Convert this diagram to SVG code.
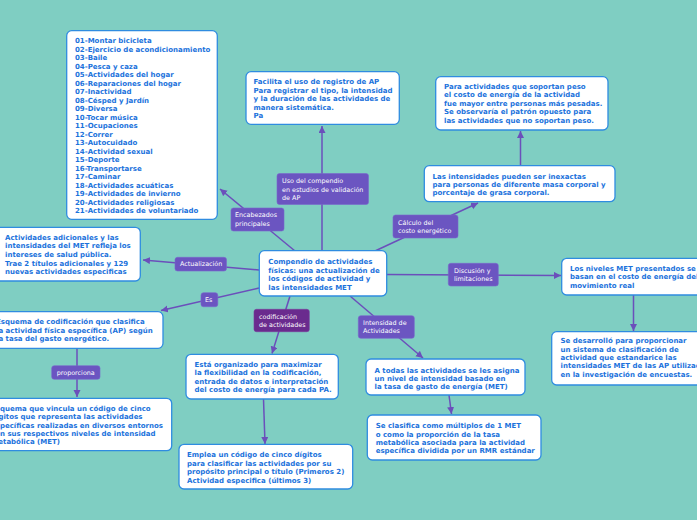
<svg xmlns="http://www.w3.org/2000/svg" width="697" height="520" viewBox="0 0 697 520">
<style>
.bg{fill:#7fcec2}
.box{fill:#ffffff;stroke:#2f8ce0;stroke-width:1.3}
.t{font-family:"DejaVu Sans",Verdana,sans-serif;font-weight:bold;font-size:7px;fill:#1b72dc}
.lab{fill:#6b55c1;stroke:#7a66cc;stroke-width:0.6}
.labd{fill:#6a2b8e;stroke:#7a3a9c;stroke-width:0.6}
.lt{font-family:"DejaVu Sans",Verdana,sans-serif;font-size:6.4px;fill:#ffffff}
.c{stroke:#6b4fbb;stroke-width:1.5;fill:none}
</style>
<defs>
<marker id="ah" markerUnits="userSpaceOnUse" markerWidth="10" markerHeight="10" refX="7" refY="3.5" orient="auto">
<path d="M0,0 L7,3.5 L0,7 Z" fill="#6b4fbb"/>
</marker>
</defs>
<rect class="bg" x="0" y="0" width="697" height="520"/>

<g id="connectors">
<line class="c" x1="322" y1="251" x2="322" y2="126" marker-end="url(#ah)"/>
<line class="c" x1="295" y1="251" x2="220" y2="189" marker-end="url(#ah)"/>
<line class="c" x1="375" y1="251" x2="478" y2="203" marker-end="url(#ah)"/>
<line class="c" x1="520.5" y1="165" x2="520.5" y2="131" marker-end="url(#ah)"/>
<line class="c" x1="259" y1="270" x2="143" y2="260" marker-end="url(#ah)"/>
<line class="c" x1="259" y1="288" x2="161" y2="310.5" marker-end="url(#ah)"/>
<line class="c" x1="77" y1="348" x2="77" y2="397" marker-end="url(#ah)"/>
<line class="c" x1="290" y1="296" x2="272" y2="353.5" marker-end="url(#ah)"/>
<line class="c" x1="263.5" y1="399" x2="265" y2="444" marker-end="url(#ah)"/>
<line class="c" x1="350" y1="296" x2="423" y2="358" marker-end="url(#ah)"/>
<line class="c" x1="449" y1="395" x2="451.5" y2="414" marker-end="url(#ah)"/>
<line class="c" x1="386" y1="274.5" x2="561" y2="275.5" marker-end="url(#ah)"/>
<line class="c" x1="633.5" y1="295" x2="633.5" y2="331" marker-end="url(#ah)"/>
</g>

<g id="labels">
<g id="lab-uso"><rect class="lab" x="277" y="173.5" width="91.5" height="31" rx="2.5"/>
<text class="lt"><tspan x="282" y="183.2">Uso del compendio</tspan><tspan x="282" y="191.5">en estudios de validación</tspan><tspan x="282" y="199.9">de AP</tspan></text></g>
<g id="lab-encab"><rect class="lab" x="231" y="208" width="53" height="23" rx="2.5"/>
<text class="lt"><tspan x="235" y="217.2">Encabezados</tspan><tspan x="235" y="225.5">principales</tspan></text></g>
<g id="lab-calc"><rect class="lab" x="393" y="215" width="65" height="23" rx="2.5"/>
<text class="lt"><tspan x="398" y="224.5">Cálculo del</tspan><tspan x="398" y="232.9">costo energético</tspan></text></g>
<g id="lab-act"><rect class="lab" x="175" y="257.3" width="51.5" height="13.7" rx="2.5"/>
<text class="lt"><tspan x="180" y="266.3">Actualización</tspan></text></g>
<g id="lab-es"><rect class="lab" x="201" y="292.7" width="16.8" height="14" rx="2.5"/>
<text class="lt"><tspan x="205" y="302.2">Es</tspan></text></g>
<g id="lab-prop"><rect class="lab" x="51.7" y="365.7" width="48.3" height="13.6" rx="2.5"/>
<text class="lt"><tspan x="56.7" y="375.3">proporciona</tspan></text></g>
<g id="lab-codif"><rect class="labd" x="254" y="309.3" width="55.3" height="22.4" rx="2.5"/>
<text class="lt"><tspan x="259" y="318.9">codificación</tspan><tspan x="259" y="327.2">de actividades</tspan></text></g>
<g id="lab-int"><rect class="lab" x="358.3" y="315.7" width="56" height="22.6" rx="2.5"/>
<text class="lt"><tspan x="363" y="324.9">Intensidad de</tspan><tspan x="363" y="332.9">Actividades</tspan></text></g>
<g id="lab-disc"><rect class="lab" x="448.3" y="263.3" width="50" height="22.7" rx="2.5"/>
<text class="lt"><tspan x="454" y="272.9">Discusión y</tspan><tspan x="454" y="281.2">limitaciones</tspan></text></g>
</g>

<g id="node-central"><rect class="box" x="259.3" y="250.7" width="127.4" height="45.3" rx="5"/>
<text class="t"><tspan x="268.3" y="264.2">Compendio de actividades</tspan><tspan x="268.3" y="272.8">físicas: una actualización de</tspan><tspan x="268.3" y="281.3">los códigos de actividad y</tspan><tspan x="268.3" y="289.9">las intensidades MET</tspan></text></g>

<g id="node-lista"><rect class="box" x="66.7" y="30.7" width="150.6" height="188.6" rx="5"/>
<text class="t"><tspan x="75" y="43">01-Montar bicicleta</tspan><tspan x="75" y="51.5">02-Ejercicio de acondicionamiento</tspan><tspan x="75" y="60">03-Baile</tspan><tspan x="75" y="68.5">04-Pesca y caza</tspan><tspan x="75" y="77">05-Actividades del hogar</tspan><tspan x="75" y="85.5">06-Reparaciones del hogar</tspan><tspan x="75" y="94">07-Inactividad</tspan><tspan x="75" y="102.5">08-Césped y Jardín</tspan><tspan x="75" y="111">09-Diversa</tspan><tspan x="75" y="119.5">10-Tocar música</tspan><tspan x="75" y="128">11-Ocupaciones</tspan><tspan x="75" y="136.5">12-Correr</tspan><tspan x="75" y="145">13-Autocuidado</tspan><tspan x="75" y="153.5">14-Actividad sexual</tspan><tspan x="75" y="162">15-Deporte</tspan><tspan x="75" y="170.5">16-Transportarse</tspan><tspan x="75" y="179">17-Caminar</tspan><tspan x="75" y="187.5">18-Actividades acuáticas</tspan><tspan x="75" y="196">19-Actividades de invierno</tspan><tspan x="75" y="204.5">20-Actividades religiosas</tspan><tspan x="75" y="213">21-Actividades de voluntariado</tspan></text></g>

<g id="node-facilita"><rect class="box" x="246" y="71.7" width="153.3" height="52.6" rx="5"/>
<text class="t"><tspan x="253.5" y="84.2">Facilita el uso de registro de AP</tspan><tspan x="253.5" y="92.7">Para registrar el tipo, la intensidad</tspan><tspan x="253.5" y="101.2">y la duración de las actividades de</tspan><tspan x="253.5" y="109.7">manera sistemática.</tspan><tspan x="253.5" y="118.2">Pa</tspan></text></g>

<g id="node-para"><rect class="box" x="435.7" y="76.7" width="172.3" height="53.3" rx="5"/>
<text class="t"><tspan x="444" y="88.5">Para actividades que soportan peso</tspan><tspan x="444" y="97.1">el costo de energía de la actividad</tspan><tspan x="444" y="105.7">fue mayor entre personas más pesadas.</tspan><tspan x="444" y="114.3">Se observaría el patrón opuesto para</tspan><tspan x="444" y="122.9">las actividades que no soportan peso.</tspan></text></g>

<g id="node-las"><rect class="box" x="424.3" y="165.7" width="190.7" height="36" rx="5"/>
<text class="t"><tspan x="432.5" y="178.5">Las intensidades pueden ser inexactas</tspan><tspan x="432.5" y="186.9">para personas de diferente masa corporal y</tspan><tspan x="432.5" y="195.2">porcentaje de grasa corporal.</tspan></text></g>

<g id="node-adicionales"><rect class="box" x="-5" y="227.3" width="145.3" height="53.7" rx="5"/>
<text class="t"><tspan x="5" y="239.8">Actividades adicionales y las</tspan><tspan x="5" y="248.4">intensidades del MET refleja los</tspan><tspan x="5" y="257">intereses de salud pública.</tspan><tspan x="5" y="265.6">Trae 2 títulos adicionales  y 129</tspan><tspan x="5" y="274.2">nuevas actividades especificas</tspan></text></g>

<g id="node-esquema1"><rect class="box" x="-6" y="311.7" width="169" height="36.6" rx="5"/>
<text class="t"><tspan x="-4" y="324.2">Esquema de codificación que clasifica</tspan><tspan x="-4" y="332.8">la actividad física específica (AP) según</tspan><tspan x="-4" y="341.4">la tasa del gasto energético.</tspan></text></g>

<g id="node-esquema2"><rect class="box" x="-12" y="398.3" width="183.7" height="52.4" rx="5"/>
<text class="t"><tspan x="-9" y="410.8">Esquema que vincula un código de cinco</tspan><tspan x="-9" y="419.2">dígitos que representa las actividades</tspan><tspan x="-9" y="427.6">específicas realizadas en diversos entornos</tspan><tspan x="-9" y="436">con sus respectivos niveles de intensidad</tspan><tspan x="-9" y="444.4">metabólica (MET)</tspan></text></g>

<g id="node-esta"><rect class="box" x="186" y="354.3" width="152.3" height="44.7" rx="5"/>
<text class="t"><tspan x="194.5" y="366.5">Está organizado para maximizar</tspan><tspan x="194.5" y="375.1">la flexibilidad en la codificación,</tspan><tspan x="194.5" y="383.7">entrada de datos e interpretación</tspan><tspan x="194.5" y="392.3">del costo de energía para cada PA.</tspan></text></g>

<g id="node-emplea"><rect class="box" x="179" y="444.3" width="173.7" height="44.7" rx="5"/>
<text class="t"><tspan x="187" y="456.8">Emplea un código de cinco dígitos</tspan><tspan x="187" y="465.5">para clasificar las actividades por su</tspan><tspan x="187" y="474.2">propósito principal o título (Primeros 2)</tspan><tspan x="187" y="482.9">Actividad especifica (últimos 3)</tspan></text></g>

<g id="node-atodas"><rect class="box" x="366" y="359" width="159" height="36" rx="5"/>
<text class="t"><tspan x="374.5" y="372.5">A todas las actividades se les asigna</tspan><tspan x="374.5" y="380.9">un nivel de intensidad basado en</tspan><tspan x="374.5" y="389.2">la tasa de gasto de energía (MET)</tspan></text></g>

<g id="node-seclasifica"><rect class="box" x="367.3" y="415" width="173.7" height="45" rx="5"/>
<text class="t"><tspan x="375.7" y="428.2">Se clasifica como múltiplos de 1 MET</tspan><tspan x="375.7" y="436.6">o como la proporción de la tasa</tspan><tspan x="375.7" y="445">metabólica asociada para la actividad</tspan><tspan x="375.7" y="453.4">específica dividida por un RMR estándar</tspan></text></g>

<g id="node-losniveles"><rect class="box" x="561.7" y="258.3" width="145" height="36.7" rx="5"/>
<text class="t"><tspan x="570" y="270.8">Los niveles MET presentados se</tspan><tspan x="570" y="279.2">basan en el costo de energía del</tspan><tspan x="570" y="287.5">movimiento real</tspan></text></g>

<g id="node-sedesarrollo"><rect class="box" x="551.7" y="331.7" width="155" height="53.3" rx="5"/>
<text class="t"><tspan x="560.5" y="343.2">Se desarrolló para proporcionar</tspan><tspan x="560.5" y="351.6">un sistema de clasificación de</tspan><tspan x="560.5" y="360">actividad que estandarice las</tspan><tspan x="560.5" y="368.4">intensidades MET de las AP utilizadas</tspan><tspan x="560.5" y="376.8">en la investigación de encuestas.</tspan></text></g>
</svg>
